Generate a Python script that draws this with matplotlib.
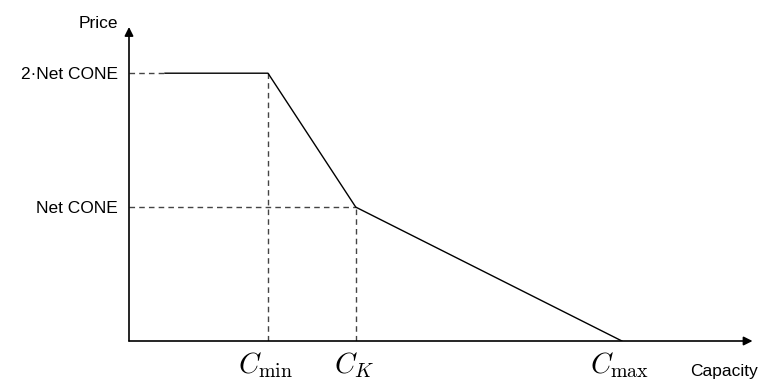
import matplotlib.pyplot as plt

plt.rcParams['font.family'] = ['Liberation Sans', 'DejaVu Sans']
plt.rcParams['mathtext.fontset'] = 'cm'

# capacity (C_max = 1) and price (Net CONE = 1)
capacity = [0.073, 0.282, 0.46, 1.0]
price = [2.0, 2.0, 1.0, 0.0]
c_min, c_k, c_max = capacity[1], capacity[2], capacity[3]
cap_ticks = [c_min, c_k, c_max]
cap_labels = [r'$C_{\min}$', r'$C_K$', r'$C_{\max}$']
price_ticks = [1, 2]
price_labels = ['Net CONE', '2·Net CONE']

fig = plt.figure(figsize=(7.66, 3.80), dpi=100)
ax = fig.add_axes([129 / 766, 39 / 380, 626 / 766, 316 / 380])
ax.set_xlim(0, 1.27)
ax.set_ylim(0, 2.36)
for s in ax.spines.values():
    s.set_visible(False)

# axes with arrow heads
arr = dict(arrowstyle='-|>', color='black', lw=1.2, mutation_scale=13,
           shrinkA=0, shrinkB=0)
ax.annotate('', xy=(1.265, 0), xytext=(0, 0), arrowprops=arr, annotation_clip=False)
ax.annotate('', xy=(0, 2.345), xytext=(0, 0), arrowprops=arr, annotation_clip=False)

# guide lines
dash = dict(color='#444444', lw=1.0, linestyle=(0, (4, 3)))
ax.plot([0, capacity[0]], [price[0], price[0]], **dash)
ax.plot([0, c_k], [price[2], price[2]], **dash)
ax.plot([c_min, c_min], [0, price[1]], **dash)
ax.plot([c_k, c_k], [0, price[2]], **dash)

# demand curve
ax.plot(capacity, price, color='black', lw=1.0)

ax.set_xticks([])
for xv, lab in zip(cap_ticks, cap_labels):
    ax.text(xv - 0.004, -0.239, lab, ha='center', va='baseline', fontsize=20.5)

ax.set_yticks(price_ticks)
ax.set_yticklabels(price_labels, fontsize=12.5)
ax.tick_params(axis='y', length=0, pad=8)

ax.text(-0.022, 2.373, 'Price', ha='right', va='center', fontsize=12.5)
ax.text(1.138, -0.231, 'Capacity', ha='left', va='center', fontsize=12.5)

fig.savefig('out.png', dpi=100)
